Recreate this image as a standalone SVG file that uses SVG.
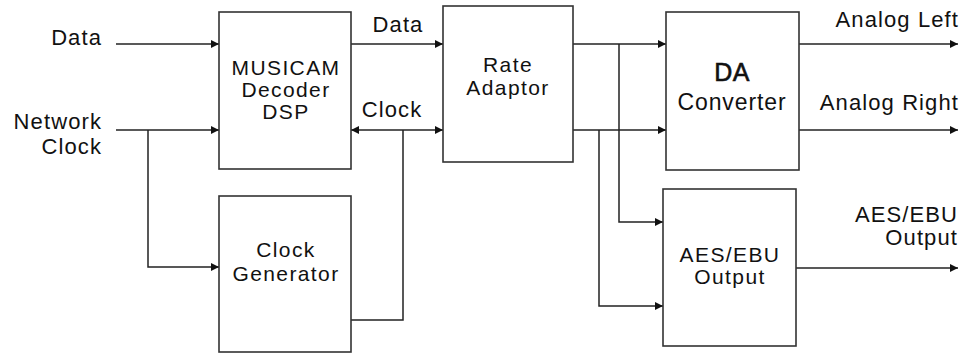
<svg xmlns="http://www.w3.org/2000/svg" width="969" height="353" viewBox="0 0 969 353">
<style>
.box{fill:#fff;stroke:#333;stroke-width:1.6}
.ln{fill:none;stroke:#222;stroke-width:1.5}
text{font-family:"Liberation Sans",Arial,sans-serif;font-size:22px;fill:#111;letter-spacing:1.1px}
.c{text-anchor:middle}
.r{text-anchor:end}
.t{font-size:21px;letter-spacing:1.4px}
.big{font-size:25px;stroke:#111;stroke-width:0.6px;letter-spacing:0.5px}
.mid{font-size:23px;letter-spacing:0.9px}
</style>
<defs>
<marker id="ah" viewBox="0 0 10 10" refX="10" refY="5" markerWidth="8" markerHeight="8" markerUnits="userSpaceOnUse" orient="auto-start-reverse">
<path d="M0,0 L10,5 L0,10 Z" fill="#111"/>
</marker>
</defs>
<rect width="969" height="353" fill="#fff"/>
<g id="connectors">
<line class="ln" x1="116" y1="44" x2="219" y2="44" marker-end="url(#ah)"/>
<line class="ln" x1="116" y1="130" x2="219" y2="130" marker-end="url(#ah)"/>
<polyline class="ln" points="148,130 148,267 219,267" marker-end="url(#ah)"/>
<line class="ln" x1="351" y1="44" x2="443" y2="44" marker-end="url(#ah)"/>
<line class="ln" x1="351" y1="130" x2="443" y2="130" marker-start="url(#ah)" marker-end="url(#ah)"/>
<polyline class="ln" points="403,130 403,320 351,320"/>
<line class="ln" x1="573" y1="44" x2="666" y2="44" marker-end="url(#ah)"/>
<line class="ln" x1="573" y1="130" x2="666" y2="130" marker-end="url(#ah)"/>
<polyline class="ln" points="619,44 619,222 663,222" marker-end="url(#ah)"/>
<polyline class="ln" points="599,130 599,306 663,306" marker-end="url(#ah)"/>
<line class="ln" x1="799" y1="44" x2="958" y2="44" marker-end="url(#ah)"/>
<line class="ln" x1="799" y1="130" x2="958" y2="130" marker-end="url(#ah)"/>
<line class="ln" x1="796" y1="268" x2="958" y2="268" marker-end="url(#ah)"/>
<text x="398" y="32" class="c">Data</text>
<text x="392" y="117" class="c">Clock</text>
</g>
<g id="labels">
<text x="102" y="45" class="r">Data</text>
<text x="102" y="129" class="r">Network</text>
<text x="102" y="154" class="r">Clock</text>
<text x="959" y="27" class="r">Analog Left</text>
<text x="959" y="110" class="r">Analog Right</text>
<text x="958" y="222" class="r">AES/EBU</text>
<text x="958" y="245" class="r">Output</text>
</g>
<g id="musicam">
<rect class="box" x="219" y="12" width="132" height="157"/>
<text x="286" y="75" class="c t">MUSICAM</text>
<text x="286" y="97" class="c t">Decoder</text>
<text x="286" y="119" class="c t">DSP</text>
</g>
<g id="rate-adaptor">
<rect class="box" x="443" y="6" width="130" height="156"/>
<text x="508" y="72" class="c t">Rate</text>
<text x="508" y="95" class="c t">Adaptor</text>
</g>
<g id="da-converter">
<rect class="box" x="666" y="12" width="133" height="158"/>
<text x="732" y="81" class="c big">DA</text>
<text x="732" y="110" class="c mid">Converter</text>
</g>
<g id="clock-generator">
<rect class="box" x="219" y="196" width="132" height="156"/>
<text x="286" y="257" class="c t">Clock</text>
<text x="286" y="281" class="c t">Generator</text>
</g>
<g id="aes-ebu">
<rect class="box" x="663" y="189" width="133" height="157"/>
<text x="730" y="262" class="c t">AES/EBU</text>
<text x="730" y="284" class="c t">Output</text>
</g>
</svg>
